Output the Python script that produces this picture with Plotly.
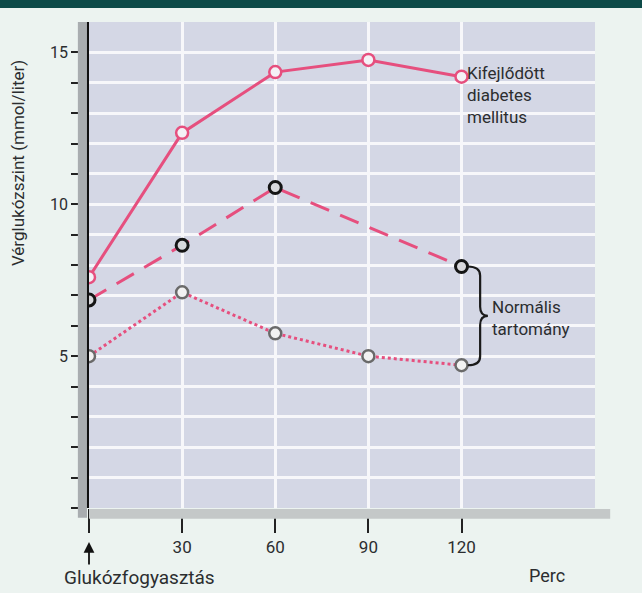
import plotly.graph_objects as go

minutes = [0, 30, 60, 90, 120]
diabetes = [7.6, 12.35, 14.35, 14.75, 14.2]
normal_upper_x = [0, 30, 60, 120]
normal_upper = [6.85, 8.65, 10.55, 7.95]
normal_lower = [5.0, 7.1, 5.75, 5.0, 4.7]

y_ticks = list(range(0, 16))
y_labels = ["15" if v == 15 else "10" if v == 10 else "5" if v == 5 else "" for v in y_ticks]
x_ticks = [0, 30, 60, 90, 120]
x_labels = ["", "30", "60", "90", "120"]

PINK = "#e64f7e"
FONT = "Liberation Sans Narrow, Arial Narrow, Roboto, sans-serif"
TXT = "#2b2d2f"

fig = go.Figure()
fig.add_trace(go.Scatter(x=minutes, y=diabetes, mode="lines+markers",
                         line=dict(color=PINK, width=3),
                         marker=dict(size=12, color="#f4f1f6", line=dict(color=PINK, width=2.5)),
                         showlegend=False))
fig.add_trace(go.Scatter(x=normal_upper_x, y=normal_upper, mode="lines+markers",
                         line=dict(color=PINK, width=3, dash="20px,12px"),
                         marker=dict(size=12, color="#d8d8dc", line=dict(color="#151515", width=3)),
                         showlegend=False))
fig.add_trace(go.Scatter(x=minutes, y=normal_lower, mode="lines+markers",
                         line=dict(color=PINK, width=3, dash="dot"),
                         marker=dict(size=12, color="#f2f2f2", line=dict(color="#6a6a6a", width=2.5)),
                         showlegend=False))

# brace between normal range end points
top = normal_upper[-1]
bot = normal_lower[-1]
mid = (top + bot) / 2
x0, x1, x2 = 122, 126, 128.5
path = (f"M {x0},{top} Q {x1},{top} {x1},{top-0.3} L {x1},{mid+0.3} Q {x1},{mid} {x2},{mid} "
        f"Q {x1},{mid} {x1},{mid-0.3} L {x1},{bot+0.3} Q {x1},{bot} {x0},{bot}")

shapes = [
    dict(type="path", path=path, xref="x", yref="y", line=dict(color="#1a1a1a", width=2.2)),
    # dark top bar
    dict(type="rect", xref="paper", yref="paper", x0=-0.3, x1=1.2, y0=1.029, y1=1.08,
         fillcolor="#0d4a48", line=dict(width=0), layer="above"),
    # 3D left face
    dict(type="rect", xref="paper", yref="paper", x0=-0.022, x1=-0.004, y0=-0.02, y1=1.0,
         fillcolor="#a9adb0", line=dict(width=0), layer="above"),
    # 3D bottom face
    dict(type="rect", xref="paper", yref="paper", x0=0.0, x1=1.03, y0=-0.022, y1=-0.002,
         fillcolor="#c4c8c8", line=dict(width=0), layer="above"),
]

annotations = [
    dict(text="Vérglukózszint (mmol/liter)", textangle=-90, xref="paper", yref="paper",
         x=-0.14, y=0.71, xanchor="center", yanchor="middle", showarrow=False,
         font=dict(family=FONT, size=17, color=TXT)),
    dict(text="Kifejlődött<br>diabetes<br>mellitus", xref="x", yref="y", x=121, y=13.6,
         xanchor="left", yanchor="middle", align="left", showarrow=False,
         font=dict(family=FONT, size=17, color=TXT)),
    dict(text="Normális<br>tartomány", xref="x", yref="y", x=129.3, y=6.25,
         xanchor="left", yanchor="middle", align="left", showarrow=False,
         font=dict(family=FONT, size=17, color=TXT)),
    dict(text="Glukózfogyasztás", xref="paper", yref="paper", x=-0.053, y=-0.143,
         xanchor="left", yanchor="middle", showarrow=False,
         font=dict(family=FONT, size=19, color=TXT)),
    dict(text="Perc", xref="paper", yref="paper", x=0.905, y=-0.138,
         xanchor="center", yanchor="middle", showarrow=False,
         font=dict(family=FONT, size=18, color=TXT)),
    dict(text="", xref="x", yref="paper", x=0, y=-0.07, ax=0, ay=24,
         showarrow=True, arrowhead=2, arrowsize=1.2, arrowwidth=1.8, arrowcolor="#111"),
]

fig.update_layout(
    width=642, height=593,
    margin=dict(l=89, r=47, t=22, b=85),
    paper_bgcolor="#ecf3f0",
    plot_bgcolor="#d4d7e5",
    shapes=shapes,
    annotations=annotations,
    xaxis=dict(range=[0, 163], tickvals=x_ticks, ticktext=x_labels,
               showgrid=True, gridcolor="#f7f7fa", gridwidth=2.5,
               ticks="outside", ticklen=24, tickwidth=1.5, tickcolor="#222",
               tickfont=dict(family=FONT, size=17, color=TXT), automargin=False,
               showline=False, zeroline=False, fixedrange=True),
    yaxis=dict(range=[0, 16], tickvals=y_ticks, ticktext=y_labels,
               showgrid=True, gridcolor="#f7f7fa", gridwidth=2.5,
               ticks="outside", ticklen=14, tickwidth=1.5, tickcolor="#222",
               tickfont=dict(family=FONT, size=16, color=TXT), automargin=False,
               showline=True, linecolor="#111", linewidth=3.5, zeroline=False, fixedrange=True),
)

fig.write_html("out.html", config={"displayModeBar": False},
               post_script="document.body.style.margin='0';document.body.style.overflow='hidden';")
